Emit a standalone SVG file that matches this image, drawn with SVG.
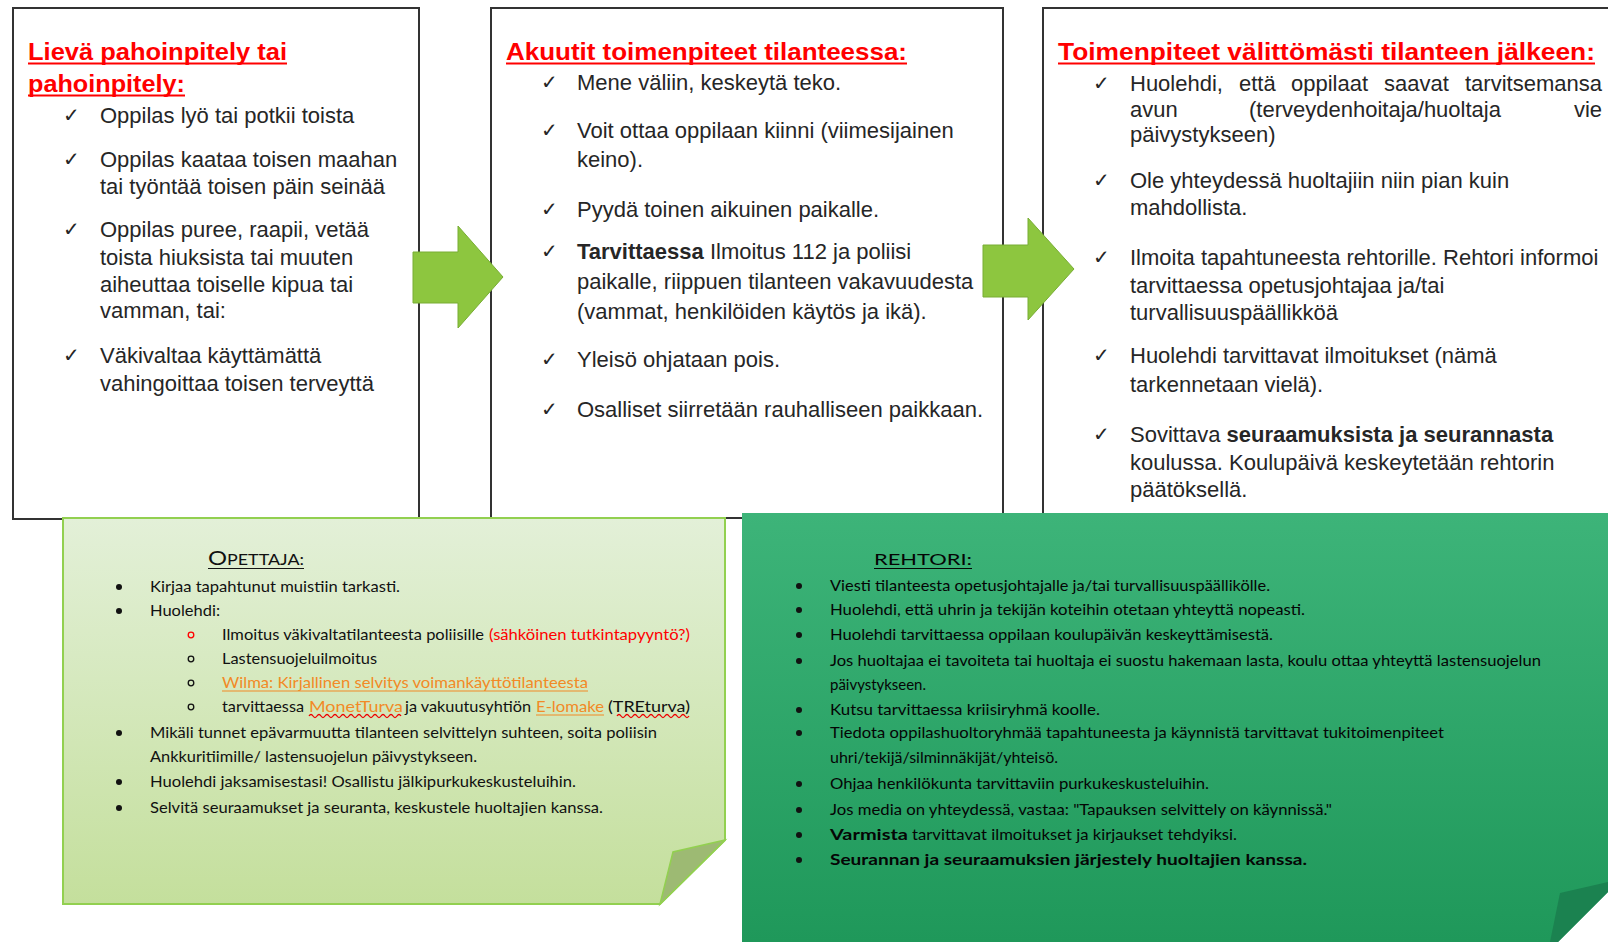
<svg xmlns="http://www.w3.org/2000/svg" width="1608" height="942" viewBox="0 0 1608 942">
<defs>
<linearGradient id="gLight" x1="0" y1="0" x2="0" y2="1">
<stop offset="0" stop-color="#e3f0d8"/>
<stop offset="1" stop-color="#c4df9c"/>
</linearGradient>
<linearGradient id="gDark" x1="0" y1="0" x2="0" y2="1">
<stop offset="0" stop-color="#3db479"/>
<stop offset="1" stop-color="#1f985a"/>
</linearGradient>
<style>
.box{fill:#fff;stroke:#333;stroke-width:2}
.t{font-family:"Liberation Sans",Arial,sans-serif;font-size:22px;fill:#262626}
.b{font-weight:bold}
.ttl{font-family:"Liberation Sans",Arial,sans-serif;font-weight:bold;font-size:24px;fill:#f00}
.ul{stroke:#f00;stroke-width:2}
.chk{font-family:"DejaVu Sans",sans-serif;font-size:20px;font-weight:bold;fill:#262626}
.arrow{fill:#8dc63f;stroke:#78ad34;stroke-width:1}
.n{font-family:Lato,"Liberation Sans",sans-serif;font-size:16px;fill:#111}
.nd{font-family:Lato,"Liberation Sans",sans-serif;font-size:16px;fill:#050505}
.dot{fill:#111}
.sub{fill:none;stroke:#111;stroke-width:1.3}
.or{fill:#f28a26}
.red{fill:#f00}
.wave{fill:none;stroke:#e00;stroke-width:1.3}
</style>
</defs>

<g id="box1">
<rect class="box" x="13" y="8" width="406" height="511"/>
<text class="ttl" x="28" y="60" textLength="259" lengthAdjust="spacingAndGlyphs">Lievä pahoinpitely tai</text>
<line class="ul" x1="28" y1="63.5" x2="287" y2="63.5"/>
<text class="ttl" x="28" y="92" textLength="157" lengthAdjust="spacingAndGlyphs">pahoinpitely:</text>
<line class="ul" x1="28" y1="95.5" x2="185" y2="95.5"/>
<text class="chk" x="63" y="122">✓</text>
<text class="t" x="100" y="123">Oppilas lyö tai potkii toista</text>
<text class="chk" x="63" y="166">✓</text>
<text class="t" x="100" y="167">Oppilas kaataa toisen maahan</text>
<text class="t" x="100" y="194">tai työntää toisen päin seinää</text>
<text class="chk" x="63" y="236">✓</text>
<text class="t" x="100" y="237">Oppilas puree, raapii, vetää</text>
<text class="t" x="100" y="265">toista hiuksista tai muuten</text>
<text class="t" x="100" y="292">aiheuttaa toiselle kipua tai</text>
<text class="t" x="100" y="318">vamman, tai:</text>
<text class="chk" x="63" y="362">✓</text>
<text class="t" x="100" y="363">Väkivaltaa käyttämättä</text>
<text class="t" x="100" y="391">vahingoittaa toisen terveyttä</text>
</g>

<g id="box2">
<rect class="box" x="491" y="8" width="512" height="510"/>
<text class="ttl" x="506" y="60" textLength="401" lengthAdjust="spacingAndGlyphs">Akuutit toimenpiteet tilanteessa:</text>
<line class="ul" x1="506" y1="63.5" x2="907" y2="63.5"/>
<text class="chk" x="541" y="89">✓</text>
<text class="t" x="577" y="90">Mene väliin, keskeytä teko.</text>
<text class="chk" x="541" y="137">✓</text>
<text class="t" x="577" y="138">Voit ottaa oppilaan kiinni (viimesijainen</text>
<text class="t" x="577" y="167">keino).</text>
<text class="chk" x="541" y="216">✓</text>
<text class="t" x="577" y="217">Pyydä toinen aikuinen paikalle.</text>
<text class="chk" x="541" y="258">✓</text>
<text class="t" x="577" y="259"><tspan class="b">Tarvittaessa</tspan> Ilmoitus 112 ja poliisi</text>
<text class="t" x="577" y="289">paikalle, riippuen tilanteen vakavuudesta</text>
<text class="t" x="577" y="319">(vammat, henkilöiden käytös ja ikä).</text>
<text class="chk" x="541" y="366">✓</text>
<text class="t" x="577" y="367">Yleisö ohjataan pois.</text>
<text class="chk" x="541" y="416">✓</text>
<text class="t" x="577" y="417">Osalliset siirretään rauhalliseen paikkaan.</text>
</g>

<g id="box3">
<rect class="box" x="1043" y="8" width="600" height="510"/>
<text class="ttl" x="1058" y="60" textLength="537" lengthAdjust="spacingAndGlyphs">Toimenpiteet välittömästi tilanteen jälkeen:</text>
<line class="ul" x1="1058" y1="63.5" x2="1595" y2="63.5"/>
<text class="chk" x="1093" y="90">✓</text>
<text class="t" y="91"><tspan x="1130">Huolehdi,</tspan><tspan x="1239">että</tspan><tspan x="1291">oppilaat</tspan><tspan x="1384">saavat</tspan><tspan x="1465">tarvitsemansa</tspan></text>
<text class="t" y="117"><tspan x="1130">avun</tspan><tspan x="1249">(terveydenhoitaja/huoltaja</tspan></text>
<text class="t" x="1602" y="117" text-anchor="end">vie</text>
<text class="t" x="1130" y="142">päivystykseen)</text>
<text class="chk" x="1093" y="187">✓</text>
<text class="t" x="1130" y="188">Ole yhteydessä huoltajiin niin pian kuin</text>
<text class="t" x="1130" y="215">mahdollista.</text>
<text class="chk" x="1093" y="264">✓</text>
<text class="t" x="1130" y="265">Ilmoita tapahtuneesta rehtorille. Rehtori informoi</text>
<text class="t" x="1130" y="293">tarvittaessa opetusjohtajaa ja/tai</text>
<text class="t" x="1130" y="320">turvallisuuspäällikköä</text>
<text class="chk" x="1093" y="362">✓</text>
<text class="t" x="1130" y="363">Huolehdi tarvittavat ilmoitukset (nämä</text>
<text class="t" x="1130" y="392">tarkennetaan vielä).</text>
<text class="chk" x="1093" y="441">✓</text>
<text class="t" x="1130" y="442">Sovittava <tspan class="b">seuraamuksista ja seurannasta</tspan></text>
<text class="t" x="1130" y="470">koulussa. Koulupäivä keskeytetään rehtorin</text>
<text class="t" x="1130" y="497">päätöksellä.</text>
</g>

<g id="connectors">
<polygon class="arrow" points="413,252 458,252 458,226 503,277 458,328 458,303 413,303"/>
<polygon class="arrow" points="983,245 1028,245 1028,218 1074,269 1028,320 1028,297 983,297"/>
</g>

<g id="note-opettaja">
<polygon points="63,518 725,518 725,840 660,904 63,904" fill="url(#gLight)" stroke="#92d050" stroke-width="2"/>
<polygon points="725,840 673,852 660,904" fill="#9dba73" stroke="#92d050" stroke-width="1.5"/>
<text class="n" x="208" y="565" textLength="96" lengthAdjust="spacingAndGlyphs"><tspan font-size="20">O</tspan><tspan font-size="15">PETTAJA:</tspan></text>
<line x1="208" y1="568.5" x2="304" y2="568.5" stroke="#151515" stroke-width="1.2"/>
<circle class="dot" cx="119" cy="587" r="3"/>
<text class="n" x="150" y="592" textLength="250" lengthAdjust="spacingAndGlyphs">Kirjaa tapahtunut muistiin tarkasti.</text>
<circle class="dot" cx="119" cy="611" r="3"/>
<text class="n" x="150" y="616" textLength="70" lengthAdjust="spacingAndGlyphs">Huolehdi:</text>
<circle cx="191" cy="635" r="2.8" fill="none" stroke="#f00" stroke-width="1.3"/>
<text class="n" x="222" y="640" textLength="262" lengthAdjust="spacingAndGlyphs">Ilmoitus väkivaltatilanteesta poliisille</text>
<text class="n red" x="489" y="640" textLength="201" lengthAdjust="spacingAndGlyphs">(sähköinen tutkintapyyntö?)</text>
<circle class="sub" cx="191" cy="659" r="2.8"/>
<text class="n" x="222" y="664" textLength="155" lengthAdjust="spacingAndGlyphs">Lastensuojeluilmoitus</text>
<circle class="sub" cx="191" cy="683" r="2.8"/>
<text class="n or" x="222" y="688" textLength="366" lengthAdjust="spacingAndGlyphs">Wilma: Kirjallinen selvitys voimankäyttötilanteesta</text>
<line x1="222" y1="691" x2="588" y2="691" stroke="#f28a26" stroke-width="1.2"/>
<circle class="sub" cx="191" cy="707" r="2.8"/>
<text class="n" x="222" y="712" textLength="82" lengthAdjust="spacingAndGlyphs">tarvittaessa</text>
<text class="n or" x="309" y="712" textLength="94" lengthAdjust="spacingAndGlyphs">MonetTurva</text>
<text class="n" x="405" y="712" textLength="126" lengthAdjust="spacingAndGlyphs">ja vakuutusyhtiön</text>
<text class="n or" x="536" y="712" textLength="68" lengthAdjust="spacingAndGlyphs">E-lomake</text>
<line x1="536" y1="715" x2="604" y2="715" stroke="#f28a26" stroke-width="1.2"/>
<text class="n" x="608" y="712" textLength="82" lengthAdjust="spacingAndGlyphs">(TREturva)</text>
<path class="wave" d="M309 716 q2 -3 4 0 t4 0 t4 0 t4 0 t4 0 t4 0 t4 0 t4 0 t4 0 t4 0 t4 0 t4 0 t4 0 t4 0 t4 0 t4 0 t4 0 t4 0 t4 0 t4 0 t4 0 t4 0 t4 0"/>
<path class="wave" d="M617 716 q2 -3 4 0 t4 0 t4 0 t4 0 t4 0 t4 0 t4 0 t4 0 t4 0 t4 0 t4 0 t4 0 t4 0 t4 0 t4 0 t4 0 t4 0 t4 0"/>
<circle class="dot" cx="119" cy="733" r="3"/>
<text class="n" x="150" y="738" textLength="507" lengthAdjust="spacingAndGlyphs">Mikäli tunnet epävarmuutta tilanteen selvittelyn suhteen, soita poliisin</text>
<text class="n" x="150" y="762" textLength="327" lengthAdjust="spacingAndGlyphs">Ankkuritiimille/ lastensuojelun päivystykseen.</text>
<circle class="dot" cx="119" cy="782" r="3"/>
<text class="n" x="150" y="787" textLength="426" lengthAdjust="spacingAndGlyphs">Huolehdi jaksamisestasi! Osallistu jälkipurkukeskusteluihin.</text>
<circle class="dot" cx="119" cy="808" r="3"/>
<text class="n" x="150" y="813" textLength="453" lengthAdjust="spacingAndGlyphs">Selvitä seuraamukset ja seuranta, keskustele huoltajien kanssa.</text>
</g>

<g id="note-rehtori">
<polygon points="742,513 1608,513 1608,892 1558,942 742,942" fill="url(#gDark)"/>
<polygon points="1560,893 1608,882 1608,892 1558,942 1550,942" fill="#1b8250"/>
<text class="nd" x="874" y="565" font-size="18" textLength="98" lengthAdjust="spacingAndGlyphs">REHTORI:</text>
<line x1="874" y1="568.5" x2="972" y2="568.5" stroke="#050505" stroke-width="1.2"/>
<circle class="dot" cx="799" cy="586" r="3"/>
<text class="nd" x="830" y="591" textLength="440" lengthAdjust="spacingAndGlyphs">Viesti tilanteesta opetusjohtajalle ja/tai turvallisuuspäällikölle.</text>
<circle class="dot" cx="799" cy="610" r="3"/>
<text class="nd" x="830" y="615" textLength="475" lengthAdjust="spacingAndGlyphs">Huolehdi, että uhrin ja tekijän koteihin otetaan yhteyttä nopeasti.</text>
<circle class="dot" cx="799" cy="635" r="3"/>
<text class="nd" x="830" y="640" textLength="443" lengthAdjust="spacingAndGlyphs">Huolehdi tarvittaessa oppilaan koulupäivän keskeyttämisestä.</text>
<circle class="dot" cx="799" cy="661" r="3"/>
<text class="nd" x="830" y="666" textLength="711" lengthAdjust="spacingAndGlyphs">Jos huoltajaa ei tavoiteta tai huoltaja ei suostu hakemaan lasta, koulu ottaa yhteyttä lastensuojelun</text>
<text class="nd" x="830" y="690" textLength="96" lengthAdjust="spacingAndGlyphs">päivystykseen.</text>
<circle class="dot" cx="799" cy="710" r="3"/>
<text class="nd" x="830" y="715" textLength="270" lengthAdjust="spacingAndGlyphs">Kutsu tarvittaessa kriisiryhmä koolle.</text>
<circle class="dot" cx="799" cy="733" r="3"/>
<text class="nd" x="830" y="738" textLength="614" lengthAdjust="spacingAndGlyphs">Tiedota oppilashuoltoryhmää tapahtuneesta ja käynnistä tarvittavat tukitoimenpiteet</text>
<text class="nd" x="830" y="763" textLength="228" lengthAdjust="spacingAndGlyphs">uhri/tekijä/silminnäkijät/yhteisö.</text>
<circle class="dot" cx="799" cy="784" r="3"/>
<text class="nd" x="830" y="789" textLength="379" lengthAdjust="spacingAndGlyphs">Ohjaa henkilökunta tarvittaviin purkukeskusteluihin.</text>
<circle class="dot" cx="799" cy="810" r="3"/>
<text class="nd" x="830" y="815" textLength="502" lengthAdjust="spacingAndGlyphs">Jos media on yhteydessä, vastaa: "Tapauksen selvittely on käynnissä."</text>
<circle class="dot" cx="799" cy="835" r="3"/>
<text class="nd b" x="830" y="840" textLength="78" lengthAdjust="spacingAndGlyphs">Varmista</text>
<text class="nd" x="912" y="840" textLength="325" lengthAdjust="spacingAndGlyphs">tarvittavat ilmoitukset ja kirjaukset tehdyiksi.</text>
<circle class="dot" cx="799" cy="860" r="3"/>
<text class="nd b" x="830" y="865" textLength="477" lengthAdjust="spacingAndGlyphs">Seurannan ja seuraamuksien järjestely huoltajien kanssa.</text>
</g>
</svg>
